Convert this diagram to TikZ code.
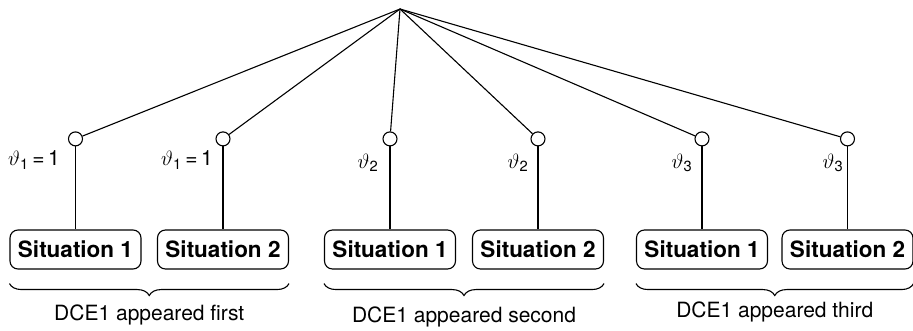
\documentclass[tikz,border=0pt]{standalone}
\usepackage{fontspec}
\setmainfont{TeX Gyre Heros}
\usetikzlibrary{positioning}
\usetikzlibrary{decorations.pathreplacing}

\tikzset{
  sitbox/.style={draw, rounded corners=8pt, minimum width=131pt, minimum height=39pt,
    inner sep=0pt, font=\fontsize{22.5}{26}\selectfont\bfseries},
  knot/.style={draw, circle, fill=white, minimum size=14pt, inner sep=0pt},
  lbl/.style={font=\fontsize{21}{25}\selectfont},
  grp/.style={decorate, decoration={brace, mirror, amplitude=12pt}},
}

\begin{document}
\begin{tikzpicture}[x=1pt, y=1pt, line width=1.1pt]
  \useasboundingbox (0,0) rectangle (913,331);
  \coordinate (top) at (400,322);

  % situations
  \node [sitbox] (s11) at (75.5,81.5) {Situation 1};
  \node [sitbox] (s12) at (223,81.5) {Situation 2};
  \node [sitbox] (s21) at (390,81.5) {Situation 1};
  \node [sitbox] (s22) at (538,81.5) {Situation 2};
  \node [sitbox] (s31) at (702,81.5) {Situation 1};
  \node [sitbox] (s32) at (847.5,81.5) {Situation 2};

  % chance nodes
  \foreach \s in {11,12,21,22,31,32} {
    \node [knot, above=83pt of s\s] (k\s) {};
    \draw (top) -- (k\s);
    \draw (k\s) -- (s\s);
  }

  \node [lbl] (p11) at (34,171) {$\vartheta$\textsubscript{1}\,=\,1};
  \node [lbl] (p12) at (187,171) {$\vartheta$\textsubscript{1}\,=\,1};
  \node [lbl] (p21) at (368,168) {$\vartheta$\textsubscript{2}};
  \node [lbl] (p22) at (518,168) {$\vartheta$\textsubscript{2}};
  \node [lbl] (p31) at (682,168) {$\vartheta$\textsubscript{3}};
  \node [lbl] (p32) at (833,168) {$\vartheta$\textsubscript{3}};

  % groups
  \draw [grp] ([yshift=-14pt]s11.south west) -- node [lbl, below=17pt] (g1) {DCE1 appeared first} ([yshift=-14pt]s12.south east);
  \draw [grp] ([yshift=-14pt]s21.south west) -- node [lbl, below=19pt] (g2) {DCE1 appeared second} ([yshift=-14pt]s22.south east);
  \draw [grp] ([yshift=-14pt]s31.south west) -- node [lbl, below=14pt] (g3) {DCE1 appeared third} ([yshift=-14pt]s32.south east);
\end{tikzpicture}
\end{document}
